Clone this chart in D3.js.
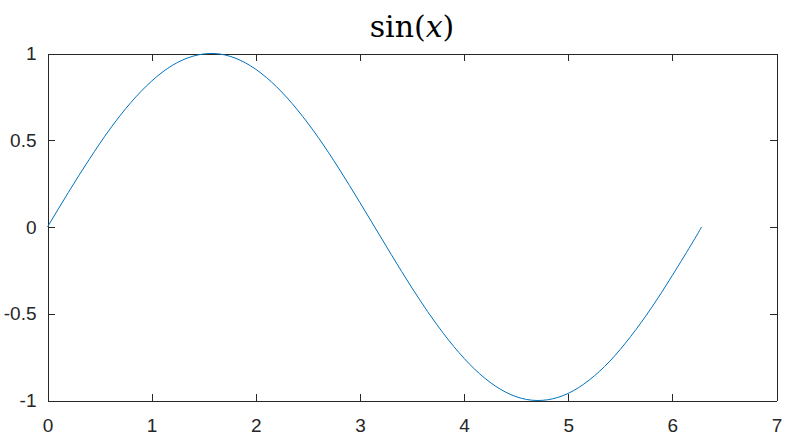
<!DOCTYPE html>
<meta charset="utf-8">
<style>
body { margin: 0; background: #fff; }
.axis path, .axis line { stroke: #262626; stroke-width: 1; shape-rendering: crispEdges; }
.curve { fill: none; stroke: #0072BD; stroke-width: 1; }
</style>
<body>
<script src="https://d3js.org/d3.v7.min.js"></script>
<script>
// values
var xVals = [0, 0.2, 0.4, 0.6, 0.8, 1.0, 1.2, 1.4, 1.6, 1.8, 2.0, 2.2, 2.4, 2.6, 2.8, 3.0,
             3.2, 3.4, 3.6, 3.8, 4.0, 4.2, 4.4, 4.6, 4.8, 5.0, 5.2, 5.4, 5.6, 5.8, 6.0, 6.2, 6.28];
var yVals = [0, 0.199, 0.389, 0.565, 0.717, 0.841, 0.932, 0.985, 1.0, 0.974, 0.909, 0.808,
             0.675, 0.516, 0.335, 0.141, -0.058, -0.256, -0.443, -0.612, -0.757, -0.872,
             -0.952, -0.994, -0.996, -0.959, -0.883, -0.773, -0.631, -0.465, -0.279, -0.083, 0];
var xTicks = [0, 1, 2, 3, 4, 5, 6, 7];
var yTicks = [-1, -0.5, 0, 0.5, 1];

var W = 801, H = 442;
var margin = { left: 47.5, right: 24.5, top: 53.5, bottom: 41.5 };
var width = W - margin.left - margin.right,
    height = H - margin.top - margin.bottom;

var svg = d3.select("body").append("svg")
    .attr("width", W)
    .attr("height", H);

var g = svg.append("g")
    .attr("transform", "translate(" + margin.left + "," + margin.top + ")");

var x = d3.scaleLinear().domain([0, 7]).range([0, width]);
var y = d3.scaleLinear().domain([-1, 1]).range([height, 0]);

var fmt = function(d) { return String(d); };

// bottom / left with labels, top / right just ticks (matlab box)
var xAxis = g.append("g").attr("class", "axis")
    .attr("transform", "translate(0," + height + ")")
    .call(d3.axisBottom(x).tickValues(xTicks).tickFormat(fmt).tickSizeInner(-7).tickSizeOuter(0).tickPadding(18));

var yAxis = g.append("g").attr("class", "axis")
    .call(d3.axisLeft(y).tickValues(yTicks).tickFormat(fmt).tickSizeInner(-7).tickSizeOuter(0).tickPadding(11));

[xAxis, yAxis].forEach(function(a) {
    a.attr("font-family", "'Liberation Sans', Arial, sans-serif").attr("font-size", 19);
    a.selectAll("text").attr("fill", "#262626");
});

g.append("g").attr("class", "axis")
    .call(d3.axisTop(x).tickValues(xTicks).tickFormat("").tickSizeInner(-7).tickSizeOuter(0));

g.append("g").attr("class", "axis")
    .attr("transform", "translate(" + width + ",0)")
    .call(d3.axisRight(y).tickValues(yTicks).tickFormat("").tickSizeInner(-7).tickSizeOuter(0));

var line = d3.line()
    .x(function(d, i) { return x(xVals[i]); })
    .y(function(d) { return y(d); })
    .curve(d3.curveNatural);

g.append("path")
    .attr("class", "curve")
    .attr("d", line(yVals));

// title
var title = svg.append("text")
    .attr("x", margin.left + width / 2)
    .attr("y", 37)
    .attr("text-anchor", "middle")
    .style("font-family", "'DejaVu Serif', serif")
    .style("font-size", "30px")
    .style("fill", "#000");
title.append("tspan").text("sin(");
title.append("tspan").style("font-style", "italic").text("x");
title.append("tspan").text(")");
</script>
</body>
